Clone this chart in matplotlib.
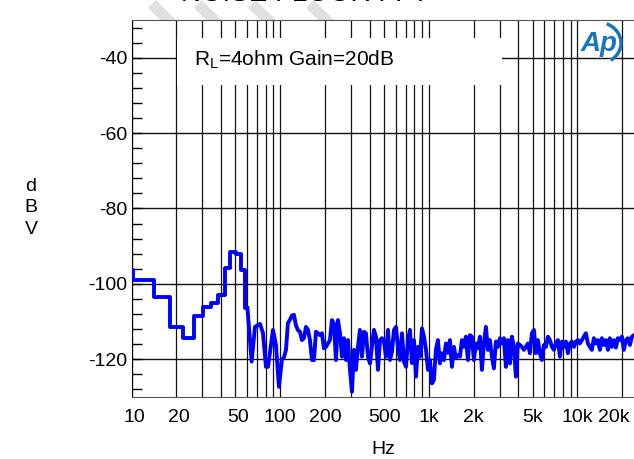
import matplotlib
matplotlib.use('Agg')
import matplotlib.pyplot as plt
import matplotlib.transforms as mtransforms
import numpy as np
from matplotlib.ticker import LogLocator, MultipleLocator, NullFormatter
from matplotlib.patches import Rectangle, Arc

plt.rcParams['font.family'] = ['Liberation Sans', 'DejaVu Sans']
plt.rcParams['mathtext.fontset'] = 'custom'
plt.rcParams['mathtext.rm'] = 'Liberation Sans'
plt.rcParams['axes.unicode_minus'] = False

# low frequency FFT bins (drawn as steps)
bin_freq = [8.25, 12.25, 16.25, 20.25, 24.25, 28.25, 32.25, 36.25, 40.25,
            44.25, 48.25, 52.25, 56.25, 60.25]
bin_db = [-96.3, -99.0, -103.4, -111.5, -114.4, -108.5, -106.0, -105.0, -103.0,
          -95.9, -91.5, -92.0, -96.3, -106.4]

# rest of the noise floor
freq = [60.25, 64.3, 67.7, 73.1, 76.6, 80.3, 82.8, 89.5, 93.7, 98.1,
        102.8, 106.1, 109.4, 112.8, 116.4, 120.1, 123.8, 127.7, 131.8, 135.9,
        140.2, 144.6, 149.1, 153.8, 158.6, 163.7, 168.8, 174.1, 179.6, 185.2,
        191.0, 197.0, 203.3, 209.7, 216.3, 223.0, 230.1, 237.3, 244.8, 252.5,
        260.4, 268.6, 277.1, 285.8, 294.8, 304.0, 313.6, 323.5, 333.7, 344.2,
        355.0, 366.2, 377.7, 389.6, 401.8, 414.5, 427.5, 441.0, 454.9, 469.2,
        483.9, 499.2, 514.9, 531.1, 547.8, 565.1, 582.9, 601.2, 620.1, 639.7,
        659.8, 680.6, 702.0, 724.1, 746.9, 770.4, 794.7, 819.7, 845.5, 872.1,
        899.6, 927.9, 957.1, 987.2, 1017, 1049, 1082, 1116, 1151, 1188,
        1225, 1264, 1303, 1344, 1387, 1430, 1475, 1522, 1570, 1619,
        1670, 1722, 1776, 1832, 1890, 1949, 2010, 2074, 2139, 2206,
        2276, 2347, 2421, 2497, 2576, 2657, 2740, 2827, 2916, 3007,
        3102, 3200, 3300, 3404, 3511, 3622, 3736, 3853, 3975, 4100,
        4229, 4362, 4499, 4641, 4787, 4938, 5093, 5253, 5419, 5589,
        5765, 5947, 6134, 6327, 6526, 6732, 6944, 7162, 7388, 7620,
        7860, 8108, 8363, 8626, 8898, 9178, 9467, 9765, 10060, 10380,
        10710, 11040, 11390, 11750, 12120, 12500, 12890, 13300, 13720, 14150,
        14590, 15050, 15530, 16020, 16520, 17040, 17580, 18130, 18700, 19290,
        19900, 20530, 21170, 21840, 22530, 23240, 23970]
level = [-106.4, -120.6, -111.4, -110.6, -113.0, -122.0, -122.0, -112.2, -116.2, -127.3,
         -120.0, -119.5, -117.5, -110.4, -109.5, -108.4, -108.2, -111.0, -112.3, -112.7,
         -114.9, -114.4, -111.4, -112.2, -114.9, -120.2, -120.2, -112.7, -113.1, -113.6,
         -113.1, -117.1, -116.7, -115.8, -114.9, -109.6, -110.5, -120.2, -109.6, -113.0,
         -119.3, -114.4, -120.2, -114.9, -122.8, -128.6, -117.5, -122.8, -116.7, -112.2,
         -119.3, -112.7, -113.1, -119.3, -121.1, -116.7, -112.2, -114.0, -122.8, -114.9,
         -114.4, -115.3, -119.3, -112.2, -120.2, -118.0, -112.2, -111.4, -116.7, -120.2,
         -113.1, -120.6, -122.0, -114.9, -112.2, -121.0, -114.9, -124.6, -116.7, -119.3,
         -111.8, -114.0, -117.5, -122.8, -120.2, -126.4, -125.5, -117.5, -114.9, -121.1,
         -118.4, -120.2, -115.8, -118.3, -114.9, -122.0, -116.7, -119.7, -118.9, -119.3,
         -114.9, -116.7, -114.0, -120.2, -113.6, -114.0, -120.2, -115.8, -117.1, -114.0,
         -122.8, -115.7, -111.4, -117.5, -114.9, -119.3, -122.4, -115.3, -116.7, -114.4,
         -115.8, -114.4, -122.0, -114.9, -121.1, -114.0, -116.7, -124.6, -115.8, -116.2,
         -116.7, -117.5, -116.7, -115.8, -118.4, -113.1, -112.2, -118.4, -114.9, -118.4,
         -120.2, -116.2, -116.7, -114.0, -114.9, -116.7, -117.5, -115.8, -114.9, -119.3,
         -115.3, -116.7, -115.3, -118.4, -115.8, -115.3, -116.7, -115.3, -114.9, -115.8,
         -114.9, -114.0, -113.1, -115.8, -116.7, -117.5, -114.4, -115.8, -114.9, -117.5,
         -114.4, -116.2, -114.9, -117.5, -114.4, -116.7, -114.9, -116.9, -114.4, -114.9,
         -114.0, -117.5, -114.9, -114.4, -116.2, -114.0, -113.6]

tick_vals = [10, 20, 50, 100, 200, 500, 1000, 2000, 5000, 10000, 20000]
tick_labels = ['10', '20', '50', '100', '200', '500', '1k', '2k', '5k', '10k', '20k']

W, H = 634, 459
fig = plt.figure(figsize=(W / 100, H / 100), dpi=100)

# faint watermark stripes and clipped title above the plot
for x0 in [152, 198, 252, 310]:
    fig.add_artist(plt.Line2D([x0 / W, (x0 + 26) / W], [1 - 4 / H, 1 - 30 / H],
                              color='#e0e0e0', lw=8, solid_capstyle='butt', zorder=0))
fig.text(305 / W, 1 - 1 / H, 'NOISE FLOOR FFT', fontsize=20, ha='center',
         va='baseline', color='black')

ax = fig.add_axes([131.5 / W, 1 - 397 / H, (W - 131.5) / W, 377 / H])
ax.set_zorder(1)

ax.plot(bin_freq, bin_db, color='#0000ff', lw=2.8, drawstyle='steps-mid', zorder=4)
ax.plot(freq, level, color='#0000ff', lw=2.8, zorder=4)

ax.set_xscale('log')
ax.set_xlim(10, 24000)
ax.set_ylim(-130, -30)

ax.set_xticks(tick_vals, [''] * len(tick_vals))
ax.xaxis.set_minor_locator(LogLocator(base=10, subs=np.arange(2, 10), numticks=30))
ax.xaxis.set_minor_formatter(NullFormatter())
ax.tick_params(axis='x', which='both', length=0)

# x labels drawn as texts so the last one can sit inside the picture
for v, lab in zip(tick_vals, tick_labels):
    shift = -8 if lab == '20k' else (3 if v < 100 else 0)
    tr = ax.get_xaxis_transform() + mtransforms.ScaledTranslation(shift / 100, 0, fig.dpi_scale_trans)
    ax.text(v, -21 / 377, lab, transform=tr, fontsize=14, ha='center', va='center')

ax.set_yticks([-40, -60, -80, -100, -120])
ax.yaxis.set_minor_locator(MultipleLocator(4))
ax.tick_params(axis='y', which='both', direction='in', labelsize=14, pad=3,
               color='black', width=1)
ax.tick_params(axis='y', which='minor', length=7)
ax.tick_params(axis='y', which='major', length=7)

ax.grid(axis='x', which='both', color='#111111', lw=0.9)
ax.grid(axis='y', which='major', color='#111111', lw=1.0)

for s in ['top', 'bottom']:
    ax.spines[s].set_color('#555555')
ax.spines['left'].set_color('black')
ax.spines['right'].set_visible(False)

# legend box
ax.add_patch(Rectangle((0.0905, 0.8276), 0.6465, 0.1245, transform=ax.transAxes,
                       facecolor='white', edgecolor='none', zorder=3))
ax.text(0.125, 0.895, r'R$_\mathregular{L}$=4ohm Gain=20dB', transform=ax.transAxes,
        fontsize=15, va='center', ha='left', zorder=5)

# AP logo
fig.text(599 / W, 1 - 44 / H, 'Ap', fontsize=20, fontstyle='italic', fontweight='bold',
         color='#1b75bc', ha='center', va='center', zorder=6)
fig.add_artist(Arc((597 / W, 1 - 43 / H), 48 / W, 42 / H, theta1=-60, theta2=70,
                   color='#1b75bc', lw=2.5, zorder=6))

fig.text(383 / W, 1 - 450 / H, 'Hz', fontsize=14, ha='center', va='center')
fig.text(31 / W, 1 - 208 / H, 'd\nB\nV', fontsize=14, ha='center', va='center',
         linespacing=1.35)

fig.savefig('out.png', dpi=100)
